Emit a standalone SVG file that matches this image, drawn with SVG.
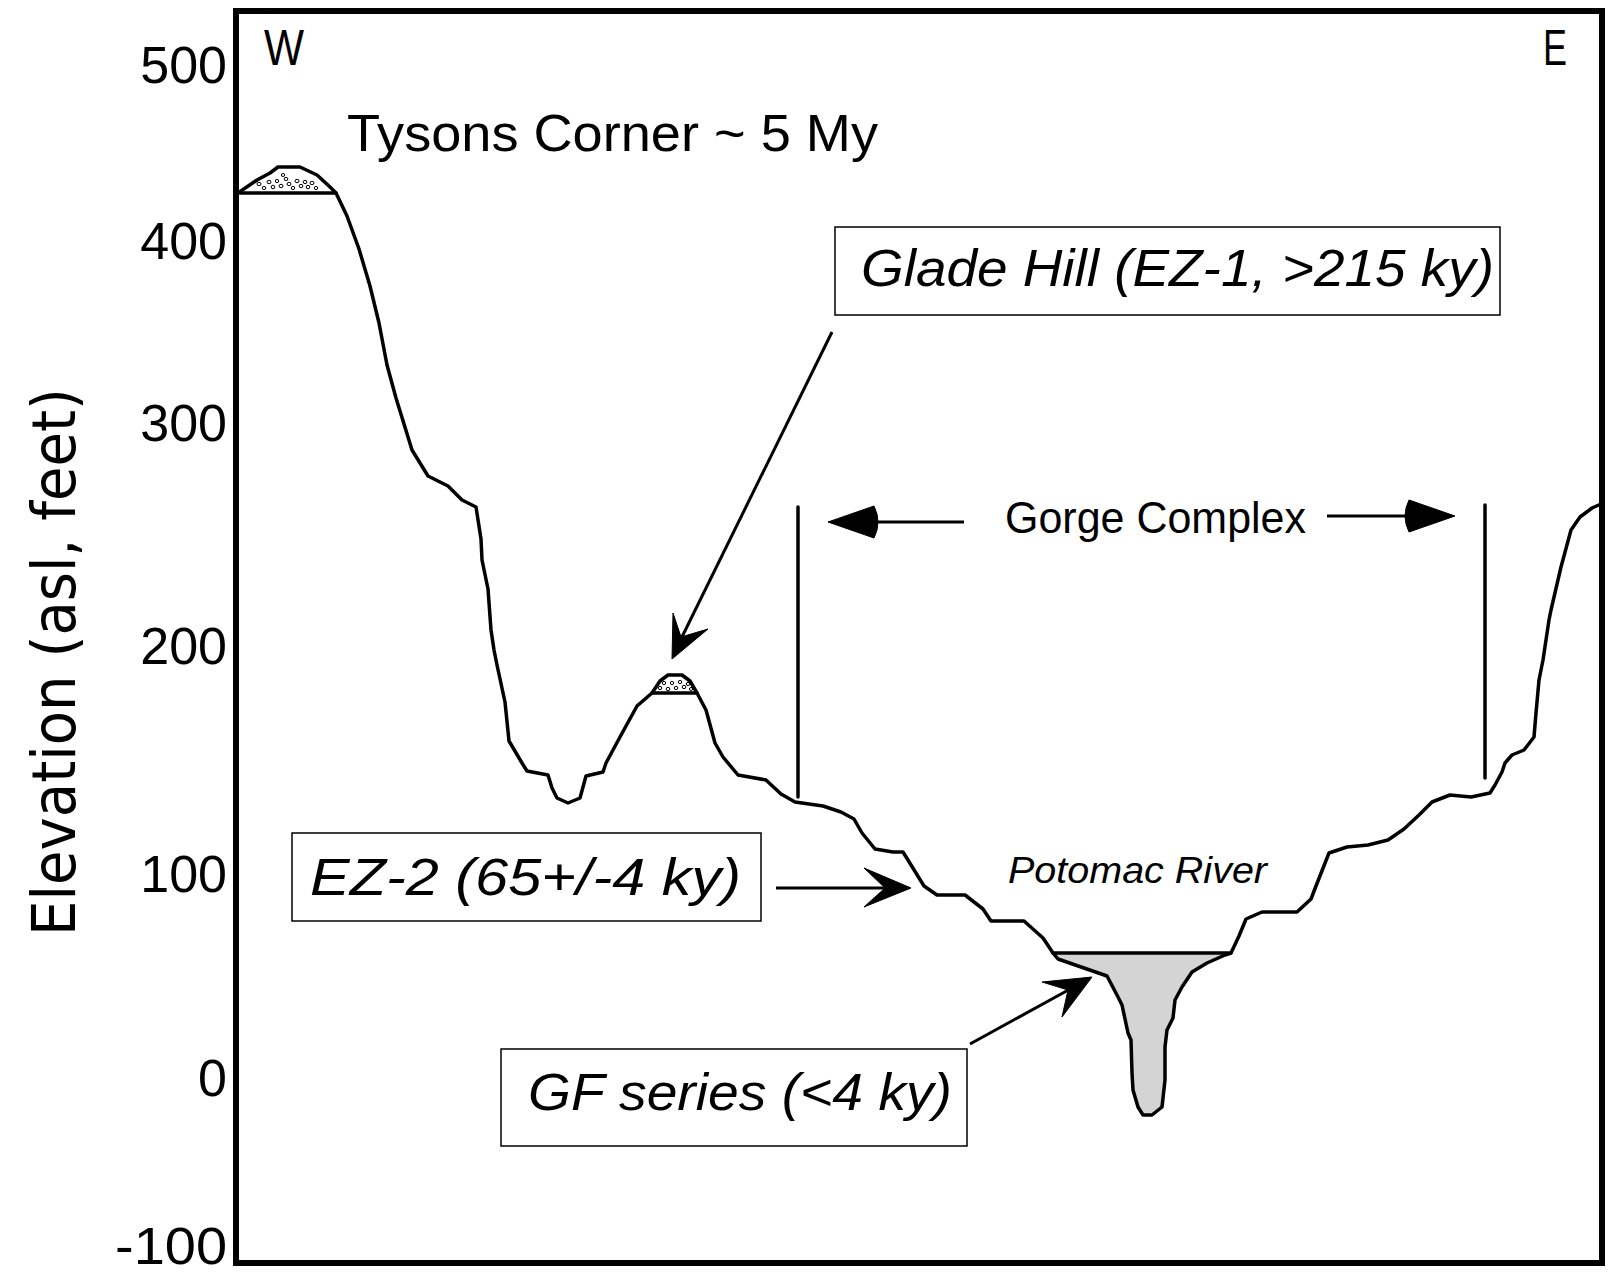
<svg xmlns="http://www.w3.org/2000/svg" width="1609" height="1284" viewBox="0 0 1609 1284">
<style>
.frame{fill:none;stroke:#000;stroke-width:6}
.prof{fill:none;stroke:#000;stroke-width:3.5;stroke-linejoin:round;stroke-linecap:round}
.lbl{fill:#fff;stroke:#000;stroke-width:1.5}
.t{font-family:"Liberation Sans",Arial,sans-serif;fill:#000}
.it{font-family:"Liberation Sans",Arial,sans-serif;font-style:italic;fill:#000}
.ax{font-family:"Liberation Sans",Arial,sans-serif;font-size:52px;fill:#000;text-anchor:end}
.shaft{stroke:#000;stroke-width:3;fill:none}
.head{fill:#000;stroke:#000;stroke-width:1}
.dot{fill:#fff;stroke:#000;stroke-width:1}
</style>
<rect width="1609" height="1284" fill="#fff"/>
<rect class="frame" x="236" y="11" width="1366" height="1252"/>

<g id="axis">
<text class="ax" x="227" y="83">500</text>
<text class="ax" x="227" y="259">400</text>
<text class="ax" x="227" y="441">300</text>
<text class="ax" x="227" y="664">200</text>
<text class="ax" x="227" y="892">100</text>
<text class="ax" x="227" y="1096">0</text>
<text class="ax" x="227" y="1264" textLength="112" lengthAdjust="spacingAndGlyphs">-100</text>
<text transform="translate(75,936) rotate(-90)" x="0" y="0" style="font-family:'DejaVu Sans',Verdana,sans-serif;font-size:61px" textLength="548" lengthAdjust="spacingAndGlyphs">Elevation (asl, feet)</text>
</g>

<g id="compass">
<text class="t" x="264" y="65" font-size="50" textLength="40" lengthAdjust="spacingAndGlyphs">W</text>
<text class="t" x="1543" y="65" font-size="50" textLength="24" lengthAdjust="spacingAndGlyphs">E</text>
</g>

<g id="river-fill">
<path d="M1053,953 L1058,959 L1107,976 L1118,997 L1122,1005 L1128,1033 L1131,1040 L1132,1073 L1133,1090 L1138,1107 L1143,1115 L1152,1115 L1162,1107 L1165,1080 L1165,1047 L1167,1030 L1173,1018 L1175,1000 L1182,987 L1192,972 L1207,963 L1225,955 L1231,953 Z" fill="#d4d4d4" stroke="none"/>
</g>

<g id="profile">
<path class="prof" d="M238,193 L257,180 L270,173 L278,167 L300,167 L317,175 L330,187 L336,193 L347,216 L359,249 L370,286 L379,323 L387,365 L396,398 L412,450 L428,476 L448,486 L462,500 L476,507 L481,539 L482,560 L488,589 L491,630 L494,650 L497,665 L505,702 L509,741 L522,763 L527,771 L548,775 L552,788 L557,798 L568,803 L580,798 L586,776 L603,772 L606,763 L620,737 L637,706 L652,693 L660,681 L668,675 L682,675 L690,681 L697,693 L706,710 L715,743 L723,757 L738,775 L766,780 L781,794 L795,802 L823,806 L841,812 L854,819 L862,833 L875,849 L893,852 L903,852 L924,886 L937,895 L965,895 L983,909 L991,921 L1024,921 L1043,938 L1053,953 L1058,959 L1107,976 L1118,997 L1122,1005 L1128,1033 L1131,1040 L1132,1073 L1133,1090 L1138,1107 L1143,1115 L1152,1115 L1162,1107 L1165,1080 L1165,1047 L1167,1030 L1173,1018 L1175,1000 L1182,987 L1192,972 L1207,963 L1225,955 L1231,953 L1239,936 L1246,919 L1262,912 L1297,912 L1311,899 L1316,886 L1329,853 L1347,847 L1368,845 L1388,840 L1404,829 L1419,815 L1432,802 L1450,795 L1471,797 L1490,793 L1495,785 L1502,772 L1505,763 L1512,755 L1524,750 L1534,737 L1536,713 L1539,680 L1543,660 L1549,620 L1551,610 L1561,567 L1571,530 L1580,517 L1592,508 L1601,504"/>
<line class="prof" x1="240" y1="193" x2="336" y2="193"/>
<line class="prof" x1="652" y1="693" x2="697" y2="693"/>
<line class="prof" x1="1053" y1="953" x2="1231" y2="953"/>
</g>

<g id="gravel">
<ellipse class="dot" cx="259" cy="184" rx="2" ry="1.7"/>
<ellipse class="dot" cx="264" cy="188" rx="1.8" ry="1.6"/>
<ellipse class="dot" cx="269" cy="182" rx="2" ry="1.7"/>
<ellipse class="dot" cx="273" cy="187" rx="1.8" ry="1.8"/>
<ellipse class="dot" cx="277" cy="181" rx="1.7" ry="1.6"/>
<ellipse class="dot" cx="281" cy="186" rx="2" ry="1.7"/>
<ellipse class="dot" cx="286" cy="179" rx="1.8" ry="1.6"/>
<ellipse class="dot" cx="289" cy="184" rx="1.9" ry="1.7"/>
<ellipse class="dot" cx="293" cy="188" rx="1.7" ry="1.6"/>
<ellipse class="dot" cx="297" cy="181" rx="2" ry="1.7"/>
<ellipse class="dot" cx="301" cy="186" rx="1.8" ry="1.7"/>
<ellipse class="dot" cx="305" cy="182" rx="1.9" ry="1.6"/>
<ellipse class="dot" cx="308" cy="187" rx="1.8" ry="1.7"/>
<ellipse class="dot" cx="312" cy="183" rx="2" ry="1.7"/>
<ellipse class="dot" cx="316" cy="188" rx="1.7" ry="1.6"/>
<ellipse class="dot" cx="283" cy="175" rx="1.7" ry="1.5"/>
<ellipse class="dot" cx="660" cy="688" rx="1.8" ry="1.6"/>
<ellipse class="dot" cx="664" cy="683" rx="1.7" ry="1.6"/>
<ellipse class="dot" cx="668" cy="689" rx="1.8" ry="1.7"/>
<ellipse class="dot" cx="672" cy="683" rx="1.7" ry="1.6"/>
<ellipse class="dot" cx="676" cy="688" rx="1.8" ry="1.6"/>
<ellipse class="dot" cx="680" cy="682" rx="1.7" ry="1.6"/>
<ellipse class="dot" cx="684" cy="687" rx="1.8" ry="1.7"/>
<ellipse class="dot" cx="688" cy="684" rx="1.7" ry="1.6"/>
<ellipse class="dot" cx="691" cy="689" rx="1.6" ry="1.5"/>
</g>

<g id="tysons">
<text class="t" x="347" y="151" font-size="52" textLength="531" lengthAdjust="spacingAndGlyphs">Tysons Corner ~ 5 My</text>
</g>

<g id="glade-hill">
<rect class="lbl" x="835" y="227" width="665" height="88"/>
<text class="it" x="861" y="286" font-size="52" textLength="633" lengthAdjust="spacingAndGlyphs">Glade Hill (EZ-1, &gt;215 ky)</text>
</g>

<g id="ez2">
<rect class="lbl" x="292" y="833" width="469" height="88"/>
<text class="it" x="310" y="895" font-size="52" textLength="431" lengthAdjust="spacingAndGlyphs">EZ-2 (65+/-4 ky)</text>
</g>

<g id="gf-series">
<rect class="lbl" x="501" y="1049" width="466" height="97"/>
<text class="it" x="528" y="1110" font-size="52" textLength="424" lengthAdjust="spacingAndGlyphs">GF series (&lt;4 ky)</text>
</g>

<g id="gorge-complex">
<text class="t" x="1005" y="533" font-size="45" textLength="301" lengthAdjust="spacingAndGlyphs">Gorge Complex</text>
<line class="prof" x1="798" y1="507" x2="798" y2="797"/>
<line class="prof" x1="1485" y1="505" x2="1485" y2="778"/>
</g>

<g id="potomac">
<text class="it" x="1008" y="883" font-size="36" textLength="259" lengthAdjust="spacingAndGlyphs">Potomac River</text>
</g>

<g id="connectors">
<line class="shaft" x1="964" y1="522" x2="872" y2="522" stroke-width="4"/>
<path class="head" d="M828,522 L874,506 Q882,522 874,538 Z"/>
<line class="shaft" x1="1327" y1="516" x2="1413" y2="516" stroke-width="4"/>
<path class="head" d="M1455,516 L1409,500 Q1401,516 1409,532 Z"/>
<line class="shaft" x1="832" y1="332" x2="679" y2="643"/>
<path class="head" d="M672,659 L673,613 L681,637 L708,629 Z"/>
<line class="shaft" x1="776" y1="888" x2="887" y2="888"/>
<path class="head" d="M911,888 L864,868 L885,888 L864,907 Z"/>
<line class="shaft" x1="970" y1="1044" x2="1072" y2="988"/>
<path class="head" d="M1092,977 L1042,982 L1068,990 L1062,1017 Z"/>
</g>
</svg>
